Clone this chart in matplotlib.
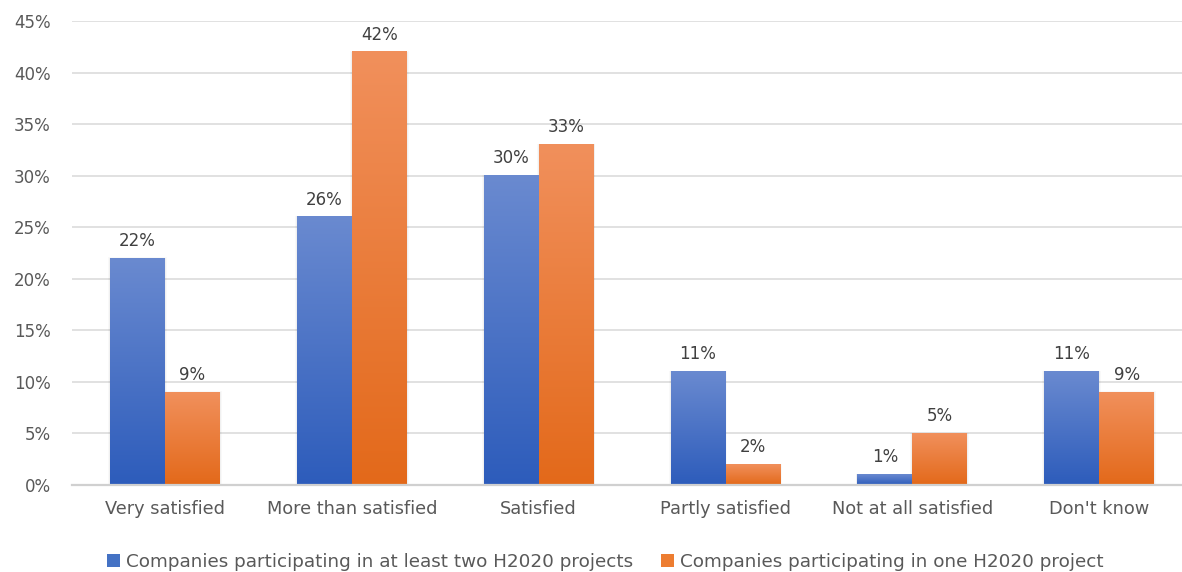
import numpy as np
import matplotlib
matplotlib.use("Agg")
import matplotlib.pyplot as plt
from matplotlib.colors import LinearSegmentedColormap
from matplotlib.patches import Rectangle
from matplotlib.ticker import PercentFormatter, MultipleLocator

categories = ["Very satisfied", "More than satisfied", "Satisfied",
              "Partly satisfied", "Not at all satisfied", "Don't know"]
two_plus = [22, 26, 30, 11, 1, 11]
one_proj = [9, 42, 33, 2, 5, 9]
series_names = ["Companies participating in at least two H2020 projects",
                "Companies participating in one H2020 project"]

blue_top, blue_bot = "#6a8ad0", "#2d5cbb"
orng_top, orng_bot = "#f1905c", "#e3691a"

plt.rcParams["font.family"] = ["DejaVu Sans"]
fig = plt.figure(figsize=(11.82, 5.72), dpi=100)
ax = fig.add_axes([0.0605, 0.1521, 0.9485, 0.8112])

x = np.arange(len(categories))
w = 0.294

def gradient_bars(xpos, vals, top, bot, label):
    bars = ax.bar(xpos, vals, width=w, facecolor="none", edgecolor="none",
                  label=label, zorder=3)
    cmap = LinearSegmentedColormap.from_list("g", [bot, top])
    grad = np.linspace(0, 1, 256).reshape(-1, 1)
    for r in bars:
        x0, w0, h0 = r.get_x(), r.get_width(), r.get_height()
        # faint drop shadow
        for k, a in ((0.010, 0.025), (0.005, 0.035)):
            ax.add_patch(Rectangle((x0 - k, 0), w0 + 2 * k, h0 + k * 8,
                                   facecolor="black", alpha=a,
                                   edgecolor="none", zorder=2))
        ax.imshow(grad, cmap=cmap, aspect="auto", origin="lower",
                  extent=(x0, x0 + w0, 0, h0), zorder=3, interpolation="bicubic")
    return bars

b1 = gradient_bars(x - w / 2, two_plus, blue_top, blue_bot, series_names[0])
b2 = gradient_bars(x + w / 2, one_proj, orng_top, orng_bot, series_names[1])

for bars, vals in ((b1, two_plus), (b2, one_proj)):
    for r, v in zip(bars, vals):
        ax.annotate(f"{v}%", (r.get_x() + r.get_width() / 2, v),
                    xytext=(0, 6), textcoords="offset points",
                    ha="center", va="bottom", fontsize=12, color="#404040")

ax.set_xlim(-0.5, len(categories) - 0.5)
ax.set_ylim(0, 45)
ax.yaxis.set_major_locator(MultipleLocator(5))
ax.yaxis.set_major_formatter(PercentFormatter(decimals=0))
ax.set_xticks(x)
ax.set_xticklabels(categories)
ax.tick_params(axis="y", length=0, labelsize=12, colors="#595959", pad=15)
ax.tick_params(axis="x", length=0, labelsize=12.8, colors="#595959", pad=11)
ax.grid(axis="y", color="#d9d9d9", linewidth=1.1, zorder=0)
ax.set_axisbelow(True)
for s in ("top", "right", "left"):
    ax.spines[s].set_visible(False)
ax.spines["bottom"].set_color("#d0d0d0")
ax.spines["bottom"].set_linewidth(1.6)
ax.spines["bottom"].set_zorder(4)

handles = [Rectangle((0, 0), 1, 1, facecolor="#4472c4"),
           Rectangle((0, 0), 1, 1, facecolor="#ed7d31")]
fig.legend(handles, series_names, loc="lower center", ncol=2,
           bbox_to_anchor=(0.512, -0.027), frameon=False, fontsize=13.2,
           labelcolor="#595959", handlelength=0.7, handleheight=0.7,
           handletextpad=0.35, columnspacing=1.5)

fig.savefig("out.png", dpi=100)
